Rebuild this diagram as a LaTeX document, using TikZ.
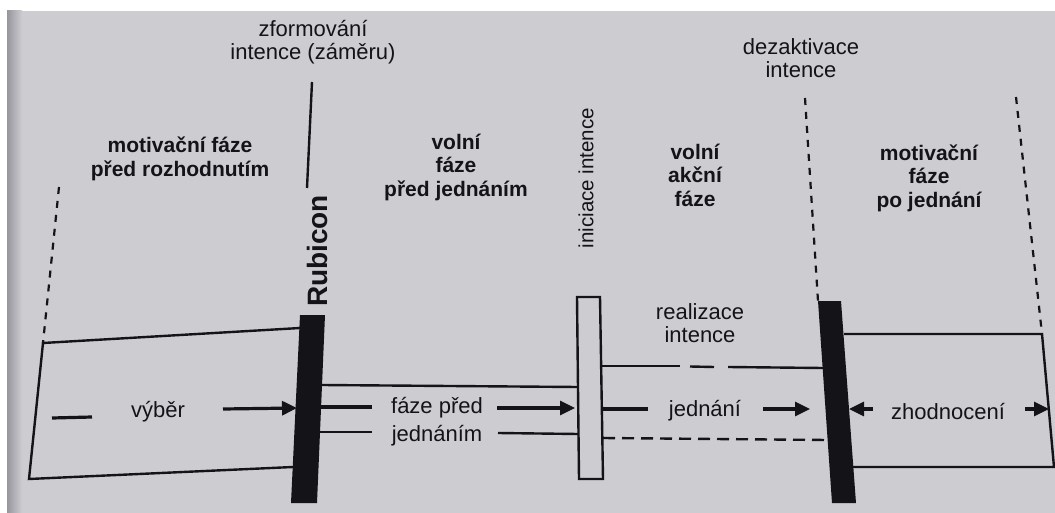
\documentclass[tikz,border=0pt]{standalone}
\usepackage{fontspec}
\setmainfont{Liberation Sans}
\usetikzlibrary{arrows.meta}
\definecolor{paper}{RGB}{204,204,209}
\definecolor{gutter}{RGB}{150,150,156}
\definecolor{ink}{RGB}{20,20,24}
\begin{document}
\begin{tikzpicture}[x=1pt,y=-1pt,
  lbl/.style={text=ink,font=\fontsize{22}{23}\selectfont,align=center,inner sep=0pt},
  head/.style={text=ink,font=\fontsize{21}{23.5}\selectfont\bfseries,align=center,inner sep=0pt},
  thinline/.style={draw=ink,line width=2.4pt},
  thickline/.style={draw=ink,line width=3.2pt},
  arr/.style={draw=ink,line width=3.2pt,-{Triangle[length=15pt,width=14pt]}},
  dashline/.style={draw=ink,line width=2.4pt,dash pattern=on 12pt off 7pt},
  vdash/.style={draw=ink,line width=2.2pt,dash pattern=on 7pt off 7pt},
  bar/.style={fill=ink},
]
\useasboundingbox (0,0) rectangle (1055,513);
\fill[white] (0,0) rectangle (1055,513);
\fill[paper] (7,11) rectangle (1055,513);
\shade[left color=gutter,right color=paper] (7,11) rectangle (22,513);

% ---- coordinates ----
% left box
\coordinate (LBtl) at (43,343);
\coordinate (LBbl) at (29,479);
\coordinate (LBtr) at (300,328);
\coordinate (LBbr) at (293,467);
\coordinate (LDtop) at (59,187);
% Rubicon bar
\coordinate (R1) at (300,315);
\coordinate (R2) at (325,315);
\coordinate (R3) at (317,503);
\coordinate (R4) at (291,503);
\coordinate (Rtop) at (312,82);
\coordinate (Rbot) at (307,188);
% initiation box
\coordinate (I1) at (577,297);
\coordinate (I2) at (600,297);
\coordinate (I3) at (603,479);
\coordinate (I4) at (579,479);
% deactivation bar
\coordinate (D1) at (818,301);
\coordinate (D2) at (841,301);
\coordinate (D3) at (856,503);
\coordinate (D4) at (832,503);
\coordinate (Dtop) at (805,98);
% right box
\coordinate (RBtl) at (844,334);
\coordinate (RBtr) at (1042,334);
\coordinate (RBbr) at (1054,467);
\coordinate (RBbl) at (853,467);
\coordinate (RDtop) at (1016,97);

% ---- bars and boxes ----
\fill[bar] (R1) -- (R2) -- (R3) -- (R4) -- cycle;
\fill[bar] (D1) -- (D2) -- (D3) -- (D4) -- cycle;
\draw[thinline] (I1) -- (I2) -- (I3) -- (I4) -- cycle;

\draw[thinline] (LBtr) -- (LBtl) -- (LBbl) -- (LBbr);
\draw[thinline] (RBtl) -- (RBtr) -- (RBbr) -- (RBbl);

\draw[vdash] (LDtop) -- (LBtl);
\draw[vdash] (Dtop) -- (D1);
\draw[vdash] (RDtop) -- (RBtr);
\draw[thinline] (Rtop) -- (Rbot);

% ---- texts ----
\node[lbl] (zform) at (313,42) {zformování\\intence (záměru)};
\node[lbl] (dezakt) at (801,58) {dezaktivace\\intence};
\node[head] (motiv1) at (180,159) {motivační fáze\\před rozhodnutím};
\node[head] (volni1) at (456,167) {volní\\fáze\\před jednáním};
\node[head] (volni2) at (695,175) {volní\\akční\\fáze};
\node[head] (motiv2) at (929,178) {motivační\\fáze\\po jednání};
\node[text=ink,font=\fontsize{28}{30}\selectfont\bfseries,rotate=90,inner sep=0pt] (rubicon) at (317,251) {Rubicon};
\node[lbl,font=\fontsize{20.5}{22}\selectfont,rotate=90] (inic) at (586,178) {iniciace intence};
\node[lbl] (realiz) at (700,323) {realizace\\intence};

% left row
\node[lbl] (vyber) at (158,412) {výběr};
\coordinate (v1) at (52,418);
\coordinate (v2) at (92,417);
\coordinate (v3) at (223,409);
\coordinate (v4) at (297,408);
\draw[thickline] (v1) -- (v2);
\draw[arr] (v3) -- (v4);

% middle rows
\coordinate (m1a) at (322,385);
\coordinate (m1b) at (578,387);
\draw[thinline] (m1a) -- (m1b);
\node[lbl] (faze) at (437,408) {fáze před};
\node[lbl] (jedn1) at (437,436) {jednáním};
\coordinate (m2a) at (321,407);
\coordinate (m2b) at (372,407);
\coordinate (m2c) at (497,408);
\coordinate (m2d) at (575,408);
\draw[thickline] (m2a) -- (m2b);
\draw[arr] (m2c) -- (m2d);
\coordinate (m3a) at (320,432);
\coordinate (m3b) at (372,432);
\coordinate (m3c) at (498,433);
\coordinate (m3d) at (578,434);
\draw[thinline] (m3a) -- (m3b);
\draw[thinline] (m3c) -- (m3d);

% right middle rows
\coordinate (r1a) at (601,366);
\coordinate (r1b) at (680,366);
\coordinate (r1c) at (690,366.5);
\coordinate (r1d) at (714,367);
\coordinate (r1e) at (728,367);
\coordinate (r1f) at (823,368);
\draw[thinline] (r1a) -- (r1b);
\draw[thinline] (r1c) -- (r1d);
\draw[thinline] (r1e) -- (r1f);
\node[lbl] (jedn2) at (705,411) {jednání};
\coordinate (r2a) at (602,409);
\coordinate (r2b) at (648,409);
\coordinate (r2c) at (763,409);
\coordinate (r2d) at (810,409);
\draw[thickline] (r2a) -- (r2b);
\draw[arr] (r2c) -- (r2d);
\coordinate (r3a) at (603,438);
\coordinate (r3b) at (827,440);
\draw[dashline] (r3a) -- (r3b);

% evaluation row
\node[lbl] (zhod) at (948,412) {zhodnocení};
\coordinate (z1) at (873,409);
\coordinate (z2) at (849,409);
\coordinate (z3) at (1025,409);
\coordinate (z4) at (1049,409);
\draw[arr] (z1) -- (z2);
\draw[arr] (z3) -- (z4);
\end{tikzpicture}
\end{document}
